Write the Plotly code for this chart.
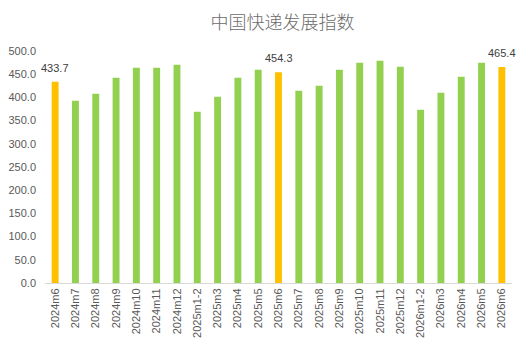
import plotly.graph_objects as go

categories = ["2024m6", "2024m7", "2024m8", "2024m9", "2024m10", "2024m11", "2024m12",
              "2025m1-2", "2025m3", "2025m4", "2025m5", "2025m6", "2025m7", "2025m8",
              "2025m9", "2025m10", "2025m11", "2025m12",
              "2026m1-2", "2026m3", "2026m4", "2026m5", "2026m6"]
values = [433.7, 392.8, 407.9, 442.3, 463.8, 463.8, 470.3,
          369.1, 401.4, 442.3, 459.5, 454.3, 414.3, 425.1,
          459.5, 474.6, 478.9, 466.0,
          373.4, 410.0, 444.5, 474.6, 465.4]
highlight = ["2024m6", "2025m6", "2026m6"]

GREEN = "#92D050"
ORANGE = "#FFC000"
colors = [ORANGE if c in highlight else GREEN for c in categories]

fig = go.Figure(go.Bar(
    x=categories, y=values,
    marker=dict(color=colors, line=dict(width=0)),
    width=0.34,
))

for c, v in zip(categories, values):
    if c in highlight:
        fig.add_annotation(x=c, y=v, text=f"{v:.1f}", showarrow=False,
                           yanchor="bottom", yshift=6,
                           font=dict(size=11, color="#404040",
                                     family="Liberation Sans, Arial, sans-serif"))

fig.update_layout(
    width=528, height=353,
    margin=dict(l=45, r=16, t=51, b=70),
    paper_bgcolor="white", plot_bgcolor="white",
    showlegend=False,
    title=dict(text="中国快递发展指数", x=0.535, xanchor="center", y=0.937, yanchor="middle",
               font=dict(size=18, color="#6b6b6b", family="Noto Sans CJK SC, sans-serif",
                         weight=300)),
    font=dict(family="Liberation Sans, Arial, sans-serif", size=11, color="#595959"),
)
fig.update_xaxes(
    type="category", tickangle=-90, showgrid=False, automargin=False,
    range=[-0.5, len(categories) - 0.5],
    showline=True, linecolor="#D9D9D9", linewidth=1,
    ticks="", tickfont=dict(size=11, color="#595959"),
)
fig.update_yaxes(
    range=[0, 500], dtick=50, tickformat=".1f", showgrid=False, automargin=False,
    showline=False, zeroline=False, ticks="", ticklabelstandoff=8,
    tickfont=dict(size=11, color="#595959"),
)

fig.write_html("out.html")
